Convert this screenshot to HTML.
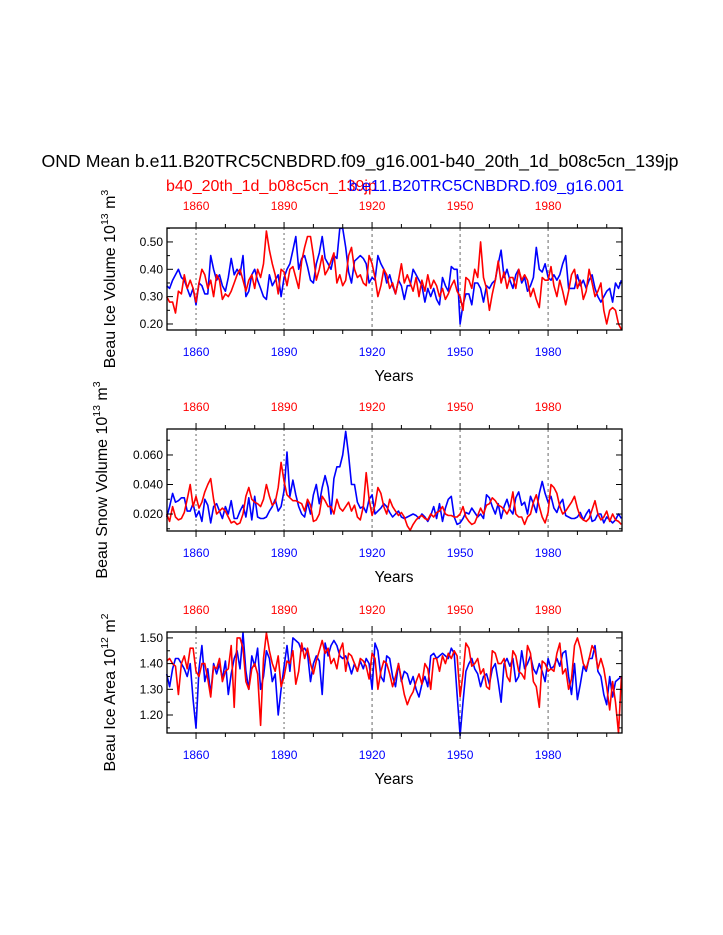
<!DOCTYPE html>
<html><head><meta charset="utf-8"><style>
html,body{margin:0;padding:0;background:#fff;}
svg{display:block;font-family:"Liberation Sans",sans-serif;}
</style></head><body>
<svg id="chart" width="723" height="935" viewBox="0 0 723 935">
<text x="360" y="167" font-size="17.7" text-anchor="middle" textLength="637" lengthAdjust="spacingAndGlyphs">OND Mean b.e11.B20TRC5CNBDRD.f09_g16.001-b40_20th_1d_b08c5cn_139jp</text>
<text x="166" y="191" font-size="16" fill="#ff0000">b40_20th_1d_b08c5cn_139jp</text>
<text x="624" y="191" font-size="16" fill="#0000ff" text-anchor="end">b.e11.B20TRC5CNBDRD.f09_g16.001</text>
<g id="plots"></g>
</svg>
<script>
const years=[];for(let y=1850;y<=2005;y++)years.push(y);
const xTickYears=[1860,1890,1920,1950,1980];
const iceVolBlue=[.34,.33,.36,.38,.40,.37,.36,.33,.30,.33,.27,.35,.34,.31,.31,.45,.40,.36,.38,.34,.32,.37,.44,.38,.40,.38,.45,.30,.32,.38,.40,.36,.33,.30,.29,.38,.34,.36,.38,.30,.37,.40,.42,.47,.52,.40,.44,.45,.41,.36,.35,.42,.46,.52,.44,.42,.40,.45,.44,.55,.55,.48,.39,.35,.43,.44,.45,.44,.42,.35,.37,.36,.45,.42,.40,.35,.38,.34,.31,.36,.34,.29,.34,.34,.40,.38,.36,.34,.28,.33,.30,.33,.29,.27,.37,.34,.32,.41,.40,.40,.20,.27,.31,.31,.27,.35,.35,.33,.28,.34,.33,.35,.36,.42,.47,.37,.40,.36,.33,.38,.40,.35,.37,.32,.34,.37,.48,.40,.39,.42,.37,.36,.38,.36,.38,.42,.45,.33,.33,.33,.38,.34,.36,.33,.36,.38,.33,.30,.28,.30,.32,.33,.28,.35,.33,.36];
const iceVolRed=[.30,.28,.28,.24,.32,.31,.38,.33,.36,.33,.28,.35,.40,.38,.33,.36,.30,.38,.36,.29,.31,.30,.32,.35,.38,.40,.36,.32,.36,.38,.33,.40,.37,.42,.54,.47,.42,.38,.31,.40,.39,.34,.40,.41,.37,.33,.43,.48,.52,.52,.45,.36,.40,.45,.38,.40,.43,.46,.35,.38,.34,.36,.45,.48,.40,.37,.38,.35,.34,.45,.42,.37,.30,.34,.40,.38,.33,.35,.31,.36,.42,.35,.38,.35,.32,.37,.30,.36,.32,.38,.33,.36,.34,.30,.33,.29,.31,.34,.36,.32,.30,.25,.37,.36,.33,.40,.37,.50,.37,.33,.25,.31,.36,.43,.35,.39,.33,.37,.37,.33,.40,.36,.38,.36,.30,.33,.29,.26,.37,.36,.36,.41,.34,.30,.36,.32,.27,.32,.38,.40,.33,.36,.29,.32,.40,.35,.30,.32,.35,.25,.20,.25,.26,.25,.20,.18];
const snowBlue=[.018,.025,.034,.028,.029,.031,.031,.022,.022,.027,.018,.022,.015,.030,.026,.014,.025,.027,.022,.017,.025,.020,.029,.017,.017,.022,.026,.018,.031,.016,.032,.018,.017,.017,.018,.022,.025,.030,.022,.025,.036,.062,.032,.043,.033,.025,.020,.018,.028,.020,.033,.040,.027,.038,.046,.038,.020,.044,.052,.052,.060,.076,.060,.040,.040,.028,.024,.025,.021,.030,.033,.020,.022,.024,.027,.025,.021,.018,.020,.022,.018,.017,.018,.019,.020,.019,.017,.020,.018,.015,.019,.025,.017,.027,.015,.024,.030,.032,.018,.013,.014,.017,.021,.020,.024,.021,.018,.020,.017,.033,.031,.025,.020,.027,.017,.025,.030,.023,.020,.031,.035,.026,.028,.020,.032,.027,.021,.034,.042,.034,.028,.032,.024,.021,.027,.030,.019,.018,.017,.017,.018,.021,.016,.020,.023,.015,.016,.020,.020,.014,.018,.016,.014,.016,.020,.017];
const snowRed=[.020,.015,.025,.018,.016,.017,.021,.030,.040,.025,.032,.024,.028,.035,.040,.044,.030,.020,.022,.024,.022,.018,.014,.015,.013,.014,.020,.032,.038,.030,.028,.027,.025,.030,.040,.032,.026,.028,.038,.055,.042,.033,.031,.029,.029,.028,.027,.022,.030,.026,.015,.016,.020,.032,.029,.025,.025,.020,.030,.024,.022,.025,.028,.022,.026,.018,.016,.025,.048,.030,.019,.026,.038,.034,.025,.020,.030,.025,.022,.019,.021,.018,.012,.009,.013,.016,.018,.019,.017,.016,.020,.018,.021,.022,.025,.020,.019,.019,.018,.018,.020,.025,.018,.015,.013,.014,.019,.024,.020,.026,.027,.031,.029,.026,.025,.023,.020,.024,.035,.020,.018,.018,.013,.018,.020,.028,.033,.025,.018,.014,.021,.040,.038,.034,.025,.020,.022,.025,.028,.032,.024,.018,.016,.015,.017,.023,.029,.020,.016,.018,.022,.015,.020,.016,.015,.013];
const areaBlue=[1.36,1.31,1.38,1.42,1.42,1.40,1.38,1.35,1.40,1.26,1.15,1.38,1.47,1.33,1.38,1.28,1.40,1.36,1.40,1.34,1.41,1.28,1.36,1.42,1.45,1.38,1.52,1.37,1.30,1.43,1.39,1.46,1.30,1.35,1.45,1.42,1.33,1.36,1.20,1.30,1.39,1.47,1.37,1.50,1.49,1.48,1.45,1.46,1.44,1.33,1.40,1.43,1.41,1.28,1.48,1.43,1.47,1.49,1.47,1.43,1.42,1.43,1.40,1.36,1.40,1.37,1.41,1.38,1.42,1.40,1.30,1.48,1.45,1.35,1.33,1.43,1.42,1.35,1.31,1.40,1.33,1.37,1.36,1.32,1.35,1.30,1.27,1.32,1.35,1.31,1.43,1.44,1.42,1.43,1.44,1.43,1.42,1.46,1.44,1.28,1.12,1.25,1.37,1.40,1.42,1.38,1.36,1.31,1.35,1.36,1.32,1.38,1.40,1.33,1.25,1.40,1.42,1.39,1.42,1.33,1.35,1.45,1.38,1.40,1.43,1.38,1.36,1.40,1.37,1.33,1.42,1.38,1.39,1.42,1.39,1.44,1.45,1.35,1.28,1.40,1.26,1.32,1.39,1.37,1.42,1.42,1.47,1.37,1.35,1.28,1.24,1.35,1.27,1.33,1.34,1.35];
const areaRed=[1.41,1.42,1.40,1.39,1.28,1.40,1.43,1.38,1.46,1.46,1.37,1.35,1.40,1.40,1.34,1.27,1.39,1.38,1.42,1.33,1.37,1.38,1.47,1.23,1.50,1.50,1.46,1.33,1.30,1.38,1.40,1.36,1.16,1.42,1.52,1.45,1.40,1.37,1.43,1.31,1.35,1.41,1.40,1.45,1.32,1.37,1.48,1.42,1.46,1.40,1.36,1.41,1.45,1.49,1.44,1.46,1.40,1.42,1.38,1.45,1.48,1.37,1.44,1.43,1.40,1.37,1.42,1.41,1.39,1.34,1.44,1.42,1.30,1.37,1.41,1.40,1.36,1.31,1.35,1.40,1.34,1.28,1.24,1.27,1.29,1.33,1.36,1.32,1.40,1.38,1.30,1.42,1.42,1.37,1.43,1.40,1.44,1.42,1.45,1.43,1.27,1.36,1.48,1.46,1.39,1.40,1.42,1.36,1.38,1.31,1.30,1.45,1.44,1.40,1.40,1.42,1.35,1.33,1.45,1.43,1.37,1.36,1.34,1.47,1.44,1.33,1.31,1.23,1.41,1.40,1.37,1.38,1.37,1.44,1.48,1.36,1.38,1.30,1.34,1.47,1.50,1.46,1.40,1.38,1.42,1.47,1.45,1.38,1.42,1.38,1.31,1.22,1.33,1.25,1.13,1.35];
const volTicks=[0.20,0.30,0.40,0.50], volTickLabels=["0.20","0.30","0.40","0.50"];
const snowTicks=[0.020,0.040,0.060], snowTickLabels=["0.020","0.040","0.060"];
const areaTicks=[1.20,1.30,1.40,1.50], areaTickLabels=["1.20","1.30","1.40","1.50"];

const NS="http://www.w3.org/2000/svg";
const root=document.getElementById('plots');
function mk(tag,attrs,parent){const e=document.createElementNS(NS,tag);for(const k in attrs)e.setAttribute(k,attrs[k]);(parent||root).appendChild(e);return e;}
const X0=167,X1=622,Y0=1850.1,Y1=2005.2;
function xs(yr){return X0+(yr-Y0)/(Y1-Y0)*(X1-X0);}

function panel(o){
  const g=mk('g',{});
  
  
  const ys=v=>o.top+(o.vmax-v)/(o.vmax-o.vmin)*(o.bot-o.top);
  xTickYears.forEach((yr,i)=>{
    const l=mk('line',{x1:xs(yr),x2:xs(yr),y1:o.top,y2:o.bot,stroke:i<2?'#999':'#444','stroke-width':i<2?1.5:0.8,'stroke-dasharray':i<2?'2,3':'3,3'},g);
    
    
  });
  [[o.blue,'#0000ff','blue-line'],[o.red,'#ff0000','red-line']].forEach(s=>{
    const p=s[0].map((v,i)=>xs(years[i]).toFixed(1)+','+ys(v).toFixed(1)).join(' ');
    const pl=mk('polyline',{points:p,fill:'none',stroke:s[1],'stroke-width':1.6,'stroke-linejoin':'round'},g);
    
    
  });
  const fr=mk('rect',{x:X0,y:o.top,width:X1-X0,height:o.bot-o.top,fill:'none',stroke:'#000','stroke-width':1.3},g);
  
  
  for(let yr=1860;yr<=2000;yr+=10){
    const major=xTickYears.includes(yr);const L=major?6:4;
    mk('line',{x1:xs(yr),x2:xs(yr),y1:o.bot,y2:o.bot+L,stroke:'#000'},g);
    mk('line',{x1:xs(yr),x2:xs(yr),y1:o.top,y2:o.top-L,stroke:'#000'},g);
  }
  xTickYears.forEach(yr=>{
    const b=mk('text',{x:xs(yr),y:o.bot+26,'font-size':12,fill:'#0000ff','text-anchor':'middle'},g);b.textContent=yr;
    
    
    const t=mk('text',{x:xs(yr),y:o.top-18,'font-size':12,fill:'#ff0000','text-anchor':'middle'},g);t.textContent=yr;
    
    
  });
  const step=o.ticks[1]-o.ticks[0];
  for(let v=o.ticks[0]-step;v<=o.vmax+1e-9;v+=step/2){
    if(v<o.vmin)continue;
    const major=o.ticks.some(t=>Math.abs(t-v)<1e-9);
    mk('line',{x1:X0,x2:X0+(major?6:3),y1:ys(v),y2:ys(v),stroke:'#000'},g);
    mk('line',{x1:X1,x2:X1-(major?6:3),y1:ys(v),y2:ys(v),stroke:'#000'},g);
  }
  o.ticks.forEach((v,i)=>{
    const t=mk('text',{x:X0-4,y:ys(v)+4,'font-size':12,'text-anchor':'end'},g);t.textContent=o.labels[i];
    
    
  });
  const xt=mk('text',{x:394,y:o.bot+51,'font-size':15.5,'text-anchor':'middle'},g);xt.textContent='Years';
  
  
  const cy=(o.top+o.bot)/2+o.yoff;
  const yt=mk('text',{x:0,y:0,'font-size':16,'text-anchor':'middle',transform:`translate(${o.ytx},${cy}) rotate(-90)`},g);
  yt.innerHTML=o.ytitle+' 10<tspan font-size="10.5" dy="-7">'+o.exp+'</tspan><tspan dy="7"> m</tspan><tspan font-size="10.5" dy="-7">'+o.mexp+'</tspan>';
  
  
}
panel({name:'ice-volume-panel',top:228,bot:330,vmin:0.178,vmax:0.551,blue:iceVolBlue,red:iceVolRed,ticks:volTicks,labels:volTickLabels,ytitle:'Beau Ice Volume',exp:'13',mexp:'3',ytx:115,yoff:0});
panel({name:'snow-volume-panel',top:429,bot:531,vmin:0.0085,vmax:0.0776,blue:snowBlue,red:snowRed,ticks:snowTicks,labels:snowTickLabels,ytitle:'Beau Snow Volume',exp:'13',mexp:'3',ytx:107,yoff:0});
panel({name:'ice-area-panel',top:632,bot:733,vmin:1.13,vmax:1.523,blue:areaBlue,red:areaRed,ticks:areaTicks,labels:areaTickLabels,ytitle:'Beau Ice Area',exp:'12',mexp:'2',ytx:115,yoff:10});
</script>
</body></html>
